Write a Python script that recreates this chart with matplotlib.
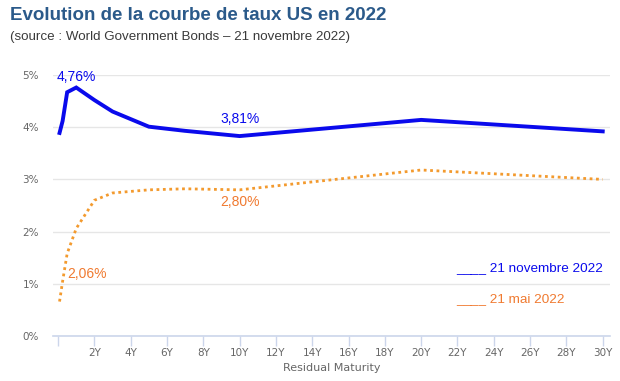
import matplotlib
matplotlib.use("Agg")
import matplotlib.pyplot as plt

# Maturities in years, yields in %
maturities = [0.08, 0.25, 0.5, 1, 2, 3, 5, 7, 10, 20, 30]
nov_2022 = [3.89, 4.12, 4.67, 4.76, 4.52, 4.30, 4.01, 3.93, 3.83, 4.14, 3.92]
mai_2022 = [0.66, 1.05, 1.58, 2.06, 2.60, 2.74, 2.80, 2.82, 2.80, 3.18, 3.00]

x_ticks = list(range(0, 31, 2))
x_labels = [""] + [f"{t}Y" for t in x_ticks[1:]]
y_ticks = [0, 1, 2, 3, 4, 5]
y_labels = [f"{t}%" for t in y_ticks]

blue = "#0a0aec"
orange = "#f07a30"
grid_col = "#e6e6e6"
axis_col = "#ccd6eb"

plt.rcParams["font.family"] = ["Liberation Sans", "DejaVu Sans"]

fig = plt.figure(figsize=(6.2, 3.81), dpi=100)
ax = fig.add_axes([53 / 620, 1 - 336 / 381, (610 - 53) / 620, (336 - 75) / 381])

ax.plot(maturities, nov_2022, color=blue, lw=2.8, solid_joinstyle="miter", zorder=3)
ax.plot(maturities, mai_2022, color="#f39a2e", lw=2.0, ls=(0, (1, 1.3)), zorder=3)

ax.set_xlim(-0.28, 30.4)
ax.set_ylim(0, 5)
ax.set_xticks(x_ticks)
ax.set_xticklabels(x_labels, family="DejaVu Sans")
ax.set_yticks(y_ticks)
ax.set_yticklabels(y_labels, family="DejaVu Sans")
ax.grid(axis="y", color=grid_col, lw=1)
ax.set_axisbelow(True)
for s in ["top", "right", "left"]:
    ax.spines[s].set_visible(False)
ax.spines["bottom"].set_color(axis_col)
ax.spines["bottom"].set_linewidth(1.2)
ax.tick_params(axis="x", colors=axis_col, length=7, width=1, labelcolor="#666666",
               labelsize=7.5, pad=2)
ax.tick_params(axis="y", length=0, labelcolor="#666666", labelsize=7.5, pad=10)
ax.set_xlabel("Residual Maturity", color="#666666", fontsize=8, family="DejaVu Sans",
              labelpad=3)

# annotations
ax.text(1.0, 4.96, "4,76%", color=blue, fontsize=10, ha="center", va="center")
ax.text(10, 4.16, "3,81%", color=blue, fontsize=10, ha="center", va="center")
ax.text(10, 2.56, "2,80%", color=orange, fontsize=10, ha="center", va="center")
ax.text(0.5, 1.19, "2,06%", color=orange, fontsize=10, ha="left", va="center")

# legend drawn as text
ax.text(21.95, 1.30, "____ 21 novembre 2022", color=blue, fontsize=9.7, ha="left", va="center")
ax.text(21.95, 0.70, "____ 21 mai 2022", color=orange, fontsize=9.7, ha="left", va="center")

fig.text(10 / 620, 1 - 15 / 381, "Evolution de la courbe de taux US en 2022",
         fontsize=13.5, fontweight="bold", color="#2b5a8a", ha="left", va="center")
fig.text(10 / 620, 1 - 37 / 381, "(source : World Government Bonds \u2013 21 novembre 2022)",
         fontsize=9.6, color="#3a3a3a", ha="left", va="center")

fig.savefig("out.png", dpi=100)
